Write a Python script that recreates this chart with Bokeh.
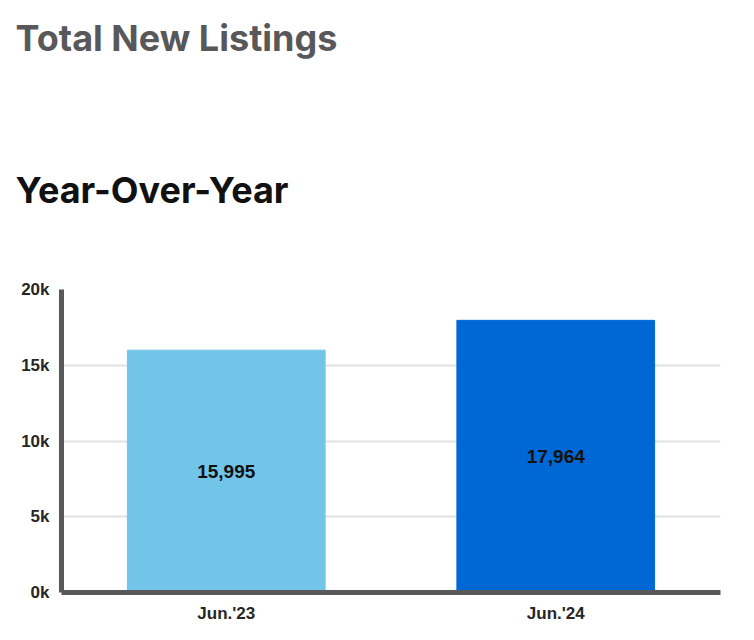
from bokeh.plotting import figure
from bokeh.models import ColumnDataSource, FixedTicker, Title, LabelSet
from bokeh.core.properties import value
from bokeh.embed import file_html
from bokeh.resources import INLINE

categories = ["Jun.'23", "Jun.'24"]
values = [15995, 17964]
value_labels = ["15,995", "17,964"]
colors = ["#72c4e8", "#0068d4"]
y_ticks = [0, 5000, 10000, 15000, 20000]
y_tick_labels = ["0k", "5k", "10k", "15k", "20k"]
title_text = "Total New Listings"
subtitle_text = "Year-Over-Year"

src = ColumnDataSource(dict(cat=categories, val=values, half=[v / 2 for v in values],
                            lab=value_labels, col=colors))

p = figure(x_range=categories, y_range=(0, 20000), width=738, height=628,
           output_backend="svg", toolbar_location=None, title=None,
           min_border_left=61, min_border_right=18, min_border_bottom=36, min_border_top=289)
p.x_range.range_padding = 0
p.outline_line_color = None

p.vbar(x="cat", top="val", width=0.6, color="col", source=src)
p.add_layout(LabelSet(x="cat", y="half", text="lab", source=src, text_align="center",
                      text_baseline="middle", text_font=value("Liberation Sans"),
                      text_font_style="bold", text_font_size="19px", text_color="#111111"))

# titles stacked above the frame (first added = closest to the frame)
p.add_layout(Title(text=subtitle_text, text_font="Inter", text_font_style="bold",
                   text_font_size="36px", text_color="#111111", align="left", offset=-46,
                   standoff=155), "above")
p.add_layout(Title(text=" ", text_font_size="10px", align="left", standoff=16), "above")
p.add_layout(Title(text=title_text, text_font="Inter", text_font_style="bold",
                   text_font_size="36px", text_color="#58585a", align="left", offset=-46,
                   standoff=0), "above")

for ax in (p.xaxis[0], p.yaxis[0]):
    ax.axis_line_color = "#59595c"
    ax.axis_line_width = 5
    ax.major_tick_line_color = None
    ax.minor_tick_line_color = None
    ax.major_label_text_font = "Liberation Sans"
    ax.major_label_text_font_style = "bold"
    ax.major_label_text_font_size = "17px"
    ax.major_label_text_color = "#262626"

p.yaxis.ticker = FixedTicker(ticks=y_ticks)
p.yaxis.major_label_overrides = {t: l for t, l in zip(y_ticks, y_tick_labels)}
p.yaxis.major_label_standoff = 6
p.xaxis.major_label_standoff = 5

p.xgrid.grid_line_color = None
p.ygrid.grid_line_color = "#e2e2e2"
p.ygrid.grid_line_width = 2
p.ygrid.ticker = FixedTicker(ticks=y_ticks)

open("out.html", "w").write(file_html(p, INLINE))
